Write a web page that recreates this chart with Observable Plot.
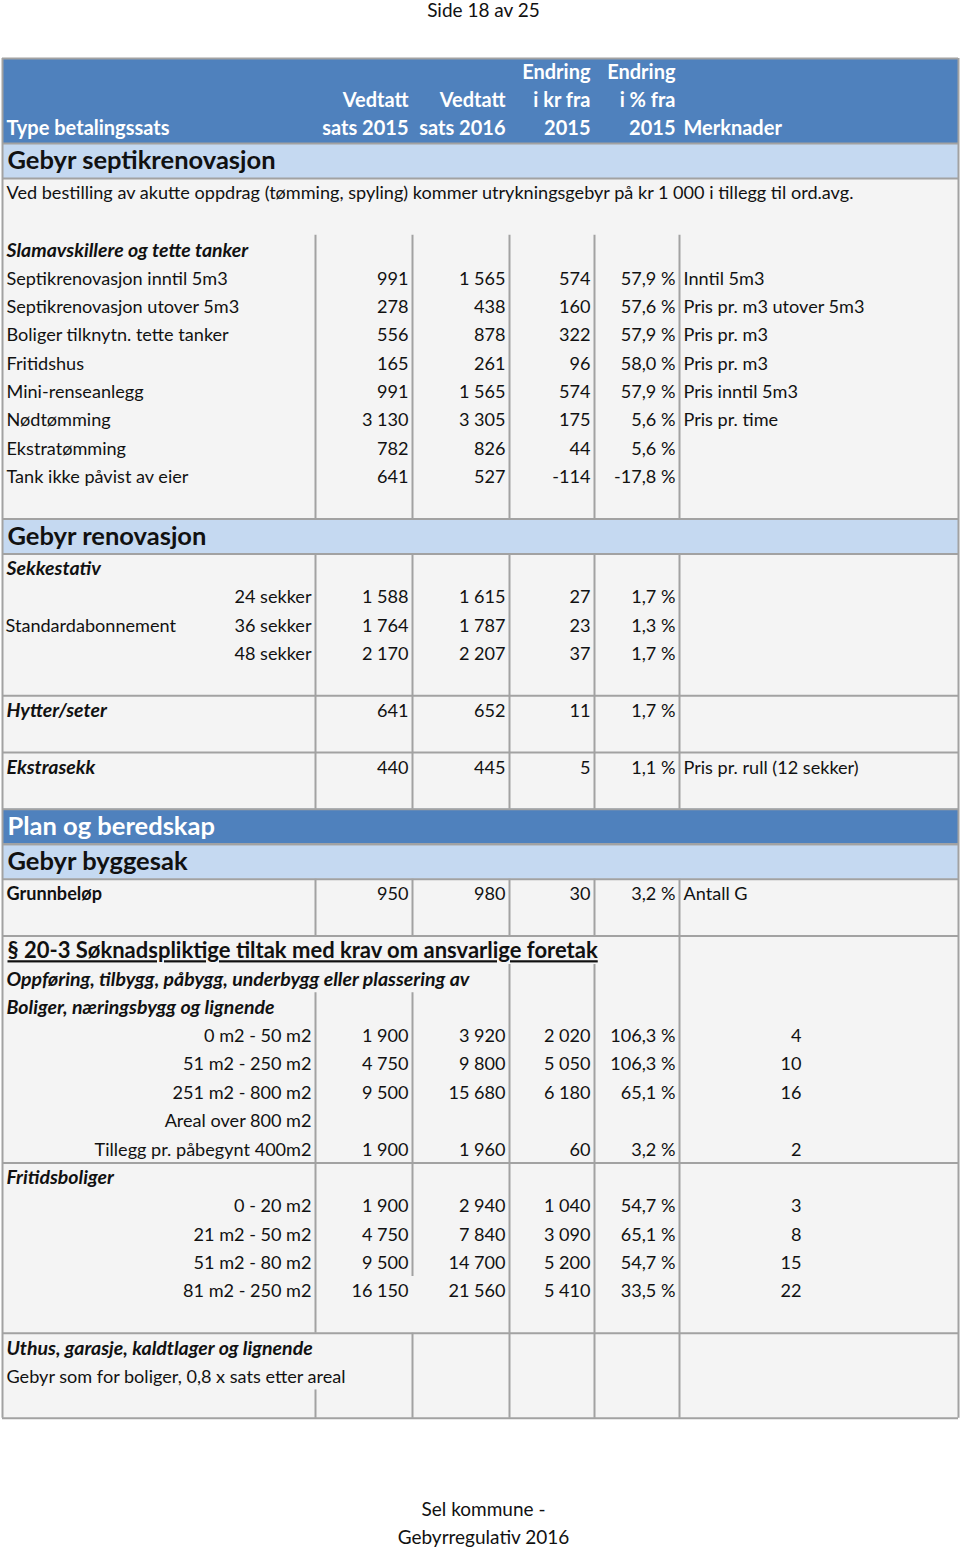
<!DOCTYPE html>
<html><head><meta charset="utf-8">
<script src="https://cdn.jsdelivr.net/npm/d3@7"></script>
<script src="https://cdn.jsdelivr.net/npm/@observablehq/plot@0.6"></script>
<style>html,body{margin:0;padding:0;background:#fff;overflow:hidden}</style>
</head><body><div id="chart"></div>
<script>
// ---------------- DATA ----------------
const pageHeader = "Side 18 av 25";
const pageFooter = ["Sel kommune -", "Gebyrregulativ 2016"];
const columnHeaders = [
  ["Type betalingssats"],
  ["Vedtatt", "sats 2015"],
  ["Vedtatt", "sats 2016"],
  ["Endring", "i kr fra", "2015"],
  ["Endring", "i % fra", "2015"],
  ["Merknader"]
];
const sectionTitles = ["Gebyr septikrenovasjon", "Gebyr renovasjon", "Plan og beredskap", "Gebyr byggesak"];

const septikNote = "Ved bestilling av akutte oppdrag (tømming, spyling) kommer utrykningsgebyr på kr 1 000 i tillegg til ord.avg.";
const septikGroup = "Slamavskillere og tette tanker";
const septikLabels = ["Septikrenovasjon inntil 5m3", "Septikrenovasjon utover 5m3", "Boliger tilknytn. tette tanker", "Fritidshus", "Mini-renseanlegg", "Nødtømming", "Ekstratømming", "Tank ikke påvist av eier"];
const septik2015 = [991, 278, 556, 165, 991, 3130, 782, 641];
const septik2016 = [1565, 438, 878, 261, 1565, 3305, 826, 527];
const septikKr   = [574, 160, 322, 96, 574, 175, 44, -114];
const septikPct  = [57.9, 57.6, 57.9, 58.0, 57.9, 5.6, 5.6, -17.8];
const septikNotes = ["Inntil 5m3", "Pris pr. m3 utover 5m3", "Pris pr. m3", "Pris pr. m3", "Pris inntil 5m3", "Pris pr. time", "", ""];

const sekkGroup = "Sekkestativ";
const sekkLabel = "Standardabonnement";
const sekkSizes = ["24 sekker", "36 sekker", "48 sekker"];
const sekk2015 = [1588, 1764, 2170];
const sekk2016 = [1615, 1787, 2207];
const sekkKr   = [27, 23, 37];
const sekkPct  = [1.7, 1.3, 1.7];

const renoExtraLabels = ["Hytter/seter", "Ekstrasekk"];
const renoExtra2015 = [641, 440];
const renoExtra2016 = [652, 445];
const renoExtraKr   = [11, 5];
const renoExtraPct  = [1.7, 1.1];
const renoExtraNotes = ["", "Pris pr. rull (12 sekker)"];

const grunnLabel = "Grunnbeløp";
const grunnValues = [950, 980, 30, 3.2];
const grunnNote = "Antall G";

const byggTitle = "§ 20-3 Søknadspliktige tiltak med krav om ansvarlige foretak";
const byggSub = "Oppføring, tilbygg, påbygg, underbygg eller plassering av";
const boligGroup = "Boliger, næringsbygg og lignende";
const boligAreas = ["0 m2 - 50 m2", "51 m2 - 250 m2", "251 m2 - 800 m2", "Areal over 800 m2", "Tillegg pr. påbegynt 400m2"];
const bolig2015 = [1900, 4750, 9500, null, 1900];
const bolig2016 = [3920, 9800, 15680, null, 1960];
const boligKr   = [2020, 5050, 6180, null, 60];
const boligPct  = [106.3, 106.3, 65.1, null, 3.2];
const boligG    = [4, 10, 16, null, 2];

const fritidGroup = "Fritidsboliger";
const fritidAreas = ["0 - 20 m2", "21 m2 - 50 m2", "51 m2 - 80 m2", "81 m2 - 250 m2"];
const fritid2015 = [1900, 4750, 9500, 16150];
const fritid2016 = [2940, 7840, 14700, 21560];
const fritidKr   = [1040, 3090, 5200, 5410];
const fritidPct  = [54.7, 65.1, 54.7, 33.5];
const fritidG    = [3, 8, 15, 22];

const uthusGroup = "Uthus, garasje, kaldtlager og lignende";
const uthusNote = "Gebyr som for boliger, 0,8 x sats etter areal";

// ---------------- LAYOUT / STYLE ----------------
const L = {
  W: 960, H: 1551,
  left: 2, right: 958, top: 58,
  headerH: 85, headerLineH: 28, bandH: 35, rowH: 28.37, textDy: 1,
  cols: [315, 412, 509, 594, 679],
  textX: 6, noteX: 683, gX: 801, pad: 4,
  font: 18.1, groupFont: 19.5, headFont: 20, bandFont: 25.5, titleFont: 22, pageFont: 19,
  pageHeaderY: 10, footerY: 1509, footerLineH: 28,
  dark: "#4f81bd", light: "#c5d9f1", body: "#f4f4f4", grid: "#a2a2a2", ink: "#111"
};

const loc = d3.formatLocale({decimal: ",", thousands: " ", grouping: [3], currency: ["", ""], minus: "-"});
const fInt = v => v == null ? "" : loc.format(",d")(v);
const fPct = v => v == null ? "" : loc.format(",.1f")(v) + " %";

// ---------------- BUILD TABLE ----------------
const rects = [], vr = [], hr = [], tx = [];
let cy = L.top;
function T(text, x, y, o = {}) {
  if (text == null || text === "") return;
  tx.push({text, x, y, anchor: o.anchor || "start", weight: o.weight || "normal",
    italic: !!o.italic, fill: o.fill || L.ink, size: o.size || L.font});
}
const BI = {weight: "bold", italic: true, size: L.groupFont};
function hline(y) { hr.push({y, x1: L.left, x2: L.right}); }
function vlines(xs, y1, y2) { xs.forEach(x => vr.push({x, y1, y2})); }
function band(text, fill, color) {
  rects.push({x1: L.left, x2: L.right, y1: cy, y2: cy + L.bandH, fill});
  hline(cy);
  T(text, L.textX + 1, cy + L.bandH / 2, {weight: "bold", size: L.bandFont, fill: color});
  cy += L.bandH;
  hline(cy);
}
function row() { const c = cy + L.rowH / 2 + L.textDy; cy += L.rowH; return c; }
function valueRow(c, vals, note) {
  vals.forEach((v, j) => T(j === 3 ? fPct(v) : fInt(v), L.cols[j + 1] - L.pad, c, {anchor: "end"}));
  T(note, L.noteX, c);
}

// header
rects.push({x1: L.left, x2: L.right, y1: cy, y2: cy + L.headerH, fill: L.dark});
const headX = [L.textX, L.cols[1] - L.pad, L.cols[2] - L.pad, L.cols[3] - L.pad, L.cols[4] - L.pad, L.noteX];
columnHeaders.forEach((lines, i) => lines.forEach((s, k) =>
  T(s, headX[i], cy + L.headerH - 15 - (lines.length - 1 - k) * L.headerLineH,
    {anchor: (i === 0 || i === 5) ? "start" : "end", weight: "bold", fill: "#fff", size: L.headFont})));
hline(cy);
cy += L.headerH;

// septik
band(sectionTitles[0], L.light, L.ink);
T(septikNote, L.textX, row());
row();
const s1 = cy;
T(septikGroup, L.textX, row(), BI);
septikLabels.forEach((lab, i) => {
  const c = row();
  T(lab, L.textX, c);
  valueRow(c, [septik2015[i], septik2016[i], septikKr[i], septikPct[i]], septikNotes[i]);
});
row();
vlines(L.cols, s1, cy);

// renovasjon
band(sectionTitles[1], L.light, L.ink);
const s2 = cy;
T(sekkGroup, L.textX, row(), BI);
sekkSizes.forEach((s, i) => {
  const c = row();
  if (i === 1) T(sekkLabel, L.textX - 1, c);
  T(s, L.cols[0] - L.pad, c, {anchor: "end"});
  valueRow(c, [sekk2015[i], sekk2016[i], sekkKr[i], sekkPct[i]], "");
});
row();
renoExtraLabels.forEach((lab, i) => {
  hline(cy);
  const c = row();
  T(lab, L.textX, c, BI);
  valueRow(c, [renoExtra2015[i], renoExtra2016[i], renoExtraKr[i], renoExtraPct[i]], renoExtraNotes[i]);
  row();
});
vlines(L.cols, s2, cy);

// plan og beredskap / byggesak
band(sectionTitles[2], L.dark, "#fff");
band(sectionTitles[3], L.light, L.ink);
const s3 = cy;
{
  const c = row();
  T(grunnLabel, L.textX, c, {weight: "bold"});
  valueRow(c, grunnValues, grunnNote);
  row();
}
vlines(L.cols, s3, cy);
hline(cy);

const s4 = cy;
T(byggTitle, L.textX + 1, row(), {weight: "bold", size: L.titleFont});
const s5 = cy;
T(byggSub, L.textX, row(), BI);
const s6 = cy;
T(boligGroup, L.textX, row(), BI);
boligAreas.forEach((a, i) => {
  const c = row();
  T(a, L.cols[0] - L.pad, c, {anchor: "end"});
  valueRow(c, [bolig2015[i], bolig2016[i], boligKr[i], boligPct[i]], "");
  T(fInt(boligG[i]), L.gX, c, {anchor: "end"});
});
hline(cy);
T(fritidGroup, L.textX, row(), BI);
let lastTop = cy;
fritidAreas.forEach((a, i) => {
  lastTop = cy;
  const c = row();
  T(a, L.cols[0] - L.pad, c, {anchor: "end"});
  valueRow(c, [fritid2015[i], fritid2016[i], fritidKr[i], fritidPct[i]], "");
  T(fInt(fritidG[i]), L.gX, c, {anchor: "end"});
});
row();
vlines([L.cols[4]], s4, cy);
vlines([L.cols[2], L.cols[3]], s5, cy);
vlines([L.cols[0]], s6, cy);
vlines([L.cols[1]], s6, lastTop);
hline(cy);

// uthus
const s7 = cy;
T(uthusGroup, L.textX, row(), BI);
T(uthusNote, L.textX, row());
const s8 = cy;
row();
vlines(L.cols.slice(1), s7, cy);
vlines([L.cols[0]], s8, cy);
hline(cy);
const tableBottom = cy;
vlines([L.left, L.right], L.top, tableBottom);

// page header/footer
T(pageHeader, L.W / 2 + 3, L.pageHeaderY, {anchor: "middle", size: L.pageFont});
pageFooter.forEach((s, i) => T(s, L.W / 2 + 3, L.footerY + i * L.footerLineH, {anchor: "middle", size: L.pageFont}));

// ---------------- PLOT ----------------
const textGroups = d3.groups(tx, d => [d.anchor, d.weight, d.italic, d.fill].join("|"));
const marks = [
  Plot.rect([{x1: L.left, x2: L.right, y1: L.top, y2: tableBottom}], {x1: "x1", x2: "x2", y1: "y1", y2: "y2", fill: L.body}),
  ...d3.groups(rects, d => d.fill).map(([fill, data]) =>
    Plot.rect(data, {x1: "x1", x2: "x2", y1: "y1", y2: "y2", fill})),
  Plot.ruleX(vr, {x: "x", y1: "y1", y2: "y2", stroke: L.grid, strokeWidth: 2}),
  Plot.ruleY(hr, {y: "y", x1: "x1", x2: "x2", stroke: L.grid, strokeWidth: 2}),
  ...textGroups.map(([key, data]) => Plot.text(data, {
    x: "x", y: "y", text: "text", fontSize: d => d.size,
    textAnchor: data[0].anchor, fontWeight: data[0].weight,
    fontStyle: data[0].italic ? "italic" : "normal", fill: data[0].fill
  }))
];

const svg = Plot.plot({
  width: L.W, height: L.H, margin: 0,
  x: {type: "linear", domain: [0, L.W], range: [0, L.W], axis: null},
  y: {type: "linear", domain: [0, L.H], range: [0, L.H], axis: null},
  style: {fontFamily: "Lato, 'Open Sans', sans-serif", background: "#fff", overflow: "visible"},
  marks
});
d3.select(svg).selectAll("text").filter(function () { return this.textContent === byggTitle; })
  .style("text-decoration", "underline");
document.getElementById("chart").appendChild(svg);
</script>
</body></html>
